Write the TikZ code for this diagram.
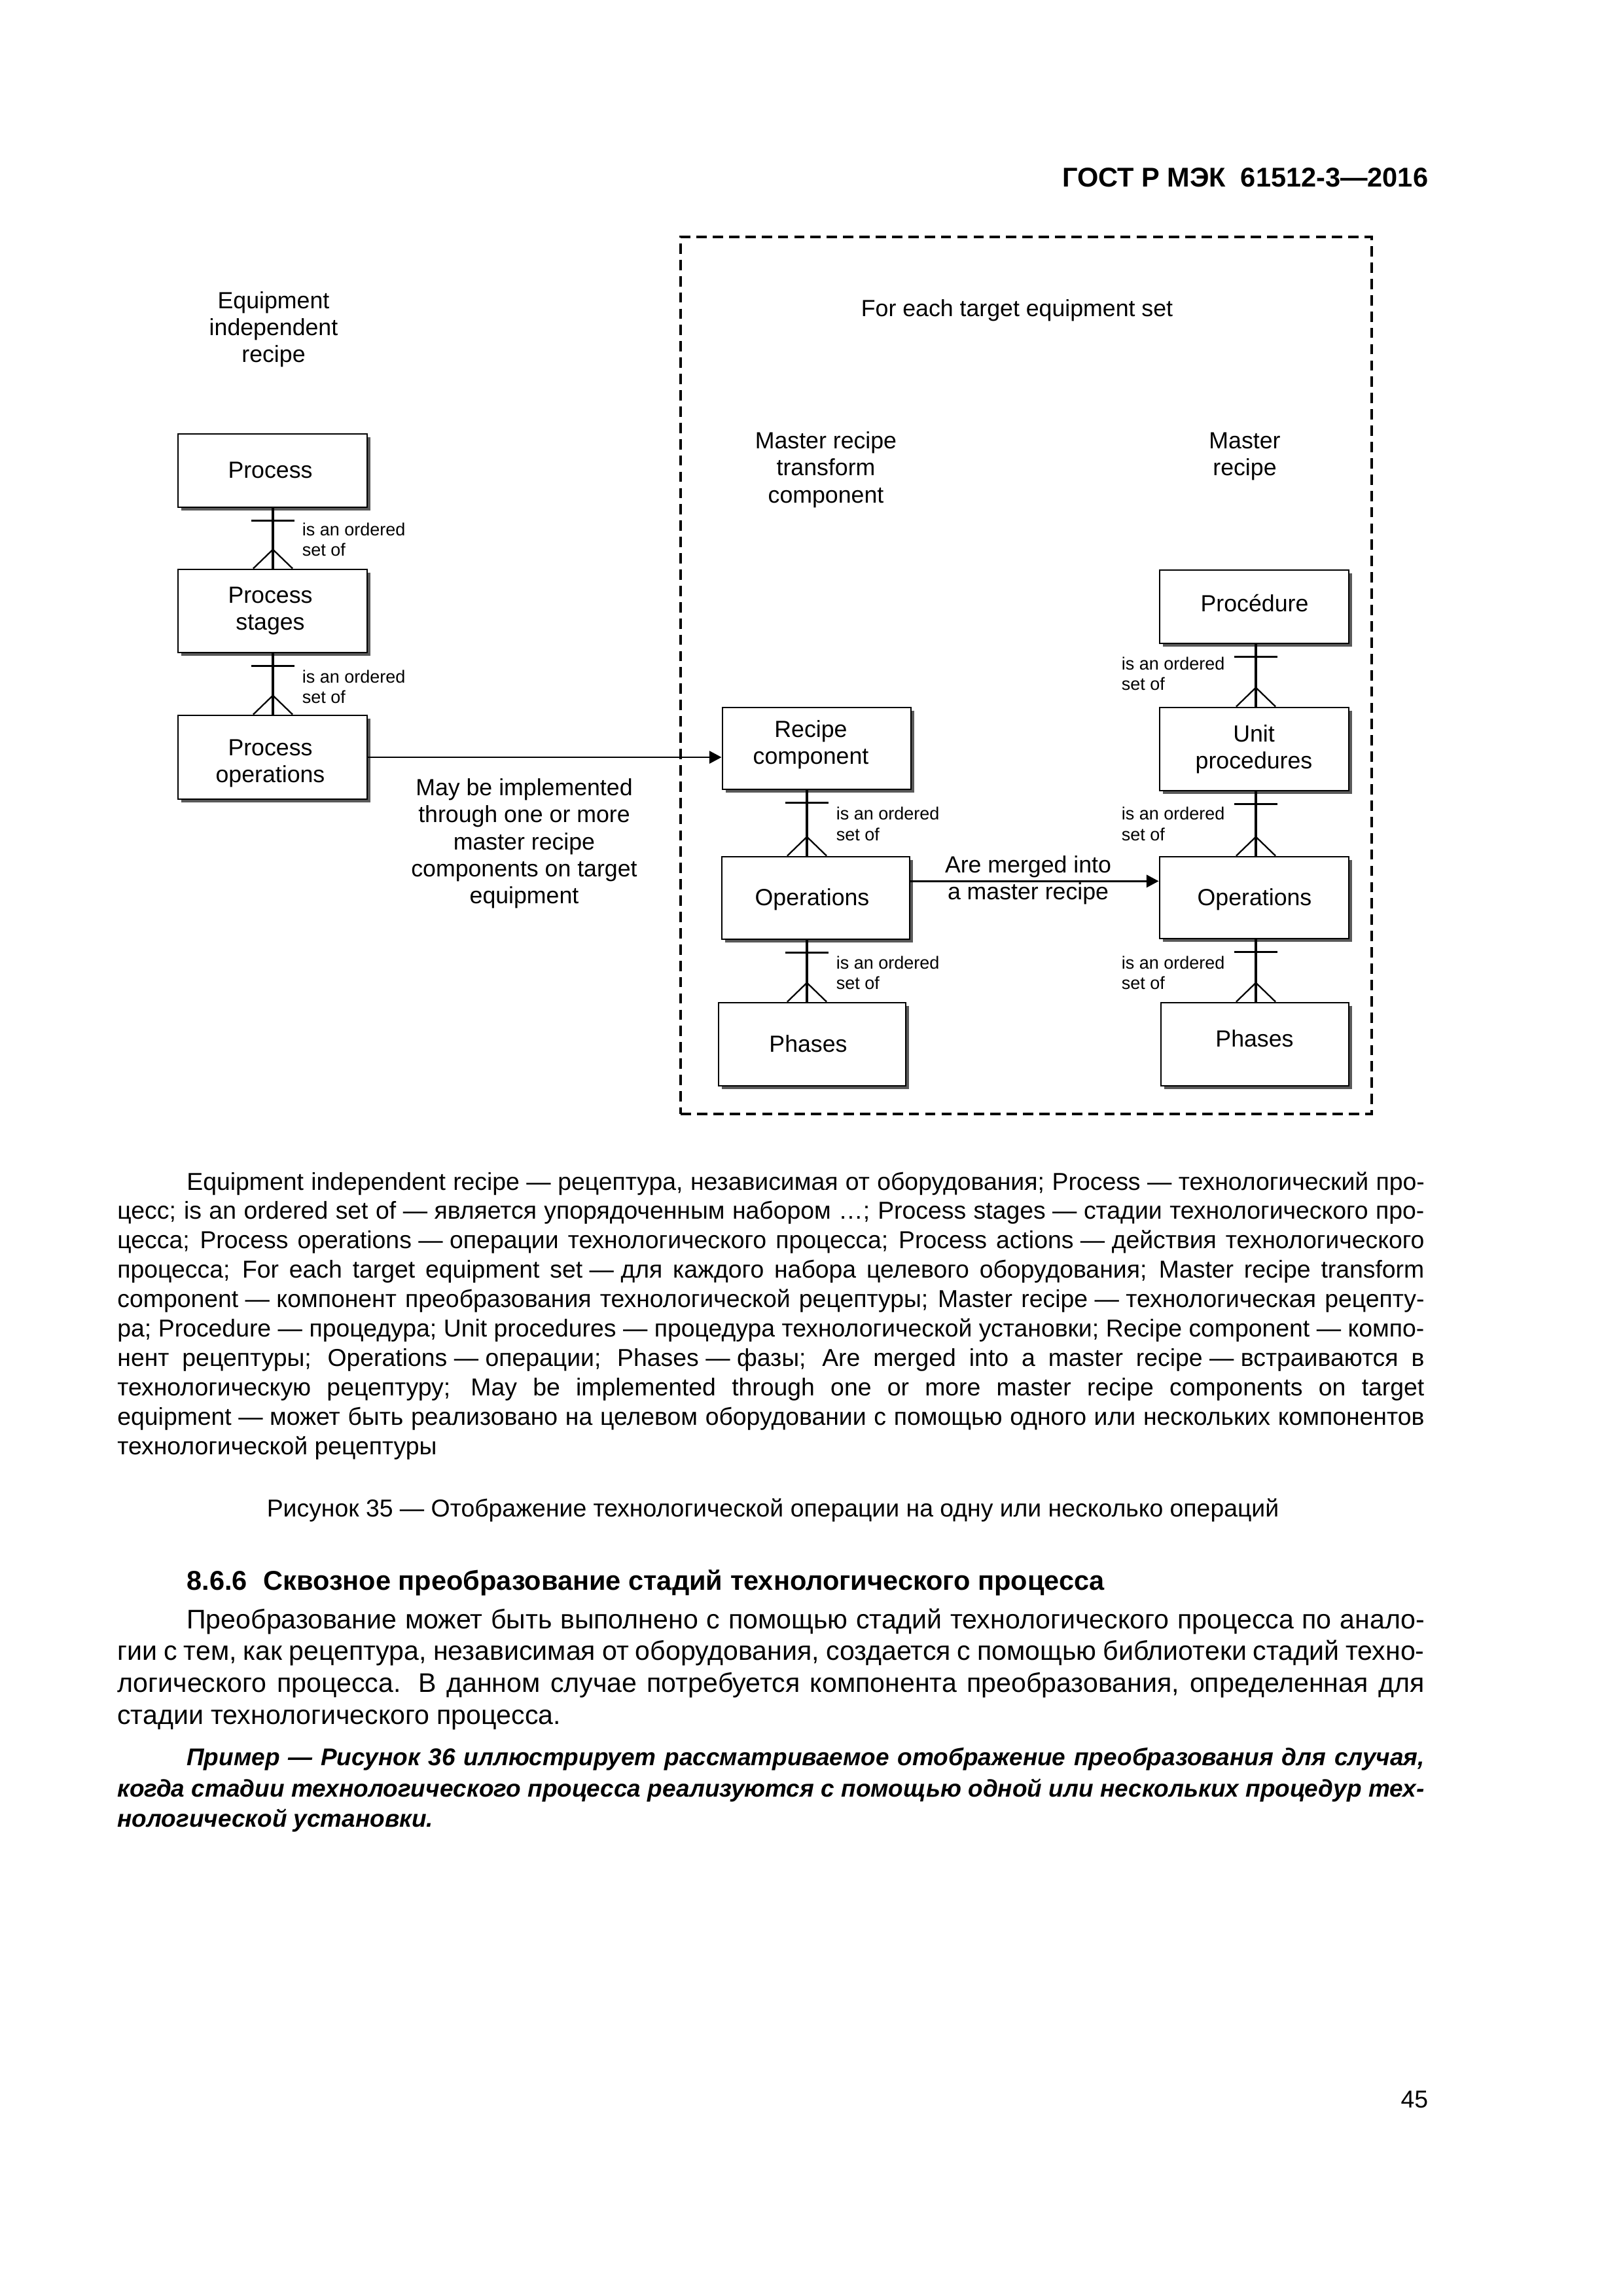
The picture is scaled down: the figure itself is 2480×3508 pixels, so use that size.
\documentclass[tikz,border=0pt]{standalone}
\usepackage{fontspec}
\setmainfont{Liberation Sans}
\usetikzlibrary{arrows.meta,fit,shadows,calc}
\newcommand\fsz[2]{\fontsize{#1}{#2}\selectfont}
\newcommand\mlines[1]{\begin{tabular}[t]{@{}c@{}}#1\end{tabular}}
\newcommand\jline[2]{\makebox[#1][s]{#2}}
\newcommand\dsh{\hspace{0.28em}—\hspace{0.28em}}
\tikzset{
  box/.style={draw, line width=0.7pt, fill=white, inner sep=0pt,
    general shadow={fill=black!65, draw=none, shadow xshift=1.3pt, shadow yshift=-1.3pt}},
  frame/.style={draw, line width=0.8pt, dash pattern=on 3.8pt off 2.2pt, inner sep=0pt},
  dtxt/.style={inner sep=0pt, font=\fsz{8.6}{9.96}},
  btext/.style={inner sep=0pt, font=\fsz{8.6}{9.96}, anchor=base},
  lbl/.style={inner sep=0pt, font=\fsz{6.5}{7.6}, anchor=base west},
  ltxt/.style={inner sep=0pt, font=\fsz{9}{10.8}, anchor=base west},
  htxt/.style={inner sep=0pt, font=\bfseries\fsz{10}{12}, anchor=base west},
  bodytxt/.style={inner sep=0pt, font=\fsz{9.9}{11.8}, anchor=base west},
  etxt/.style={inner sep=0pt, font=\bfseries\itshape\fsz{8.9}{11.3}, anchor=base west},
  conn/.style={line width=0.75pt},
  barline/.style={line width=0.85pt},
  crow/.style={line width=0.55pt},
  arr/.style={line width=0.7pt, -{Triangle[length=4.5pt,width=4.6pt]}}
}
\newcommand\relation[4]{%
  \coordinate (#4) at (#3,0);
  \draw[conn] (#1.south -| #4) -- (#2.north -| #4);
  \draw[barline] ($(#1.south -| #4)+(-33,19)$) -- ($(#1.south -| #4)+(33,19)$);
  \draw[crow] ($(#2.north -| #4)+(-30,0)$) -- ($(#2.north -| #4)+(0,-29)$) -- ($(#2.north -| #4)+(30,0)$);
}
\newcommand\ordlabel[3]{%
  \node[lbl] (#1a) at (#2,#3) {is an ordered};
  \node[lbl] (#1b) at (#2,#3+31.6) {set of};
}
\begin{document}
\begin{tikzpicture}[x=0.0846774mm,y=-0.0846774mm]
\fill[white] (0,0) rectangle (2480,3508);
\useasboundingbox (0,0) rectangle (2480,3508);

% header
\node[inner sep=0pt, anchor=base east, font=\bfseries\fsz{10}{12}] (hdr) at (2183,285) {ГОСТ Р МЭК\hspace{0.55em}61512-3—2016};

% dashed frame
\node[frame, fit={(1040,362) (2096,1702)}] (frame) {};

% headings in the diagram
\node[dtxt, anchor=base] (eir) at (418,471) {\mlines{Equipment\\independent\\recipe}};
\node[dtxt, anchor=base] (fets) at (1554,483) {For each target equipment set};
\node[dtxt, anchor=base] (mrtc) at (1262,685.5) {\mlines{Master recipe\\transform\\component}};
\node[dtxt, anchor=base] (mr) at (1902,685.5) {\mlines{Master\\recipe}};

% left column
\node[box, fit={(272,663) (561,775)}] (proc) {};
\node[box, fit={(272,870) (561,997)}] (stages) {};
\node[box, fit={(272,1093) (561,1221)}] (pops) {};
\node[btext] (procT) at (413,730.5) {Process};
\node[btext] (stagesT) at (413,921) {\mlines{Process\\stages}};
\node[btext] (popsT) at (413,1154) {\mlines{Process\\operations}};

% middle column
\node[box, fit={(1104,1081) (1392,1206)}] (rc) {};
\node[box, fit={(1103,1309) (1390,1435)}] (opsL) {};
\node[box, fit={(1098,1532) (1384,1659)}] (phL) {};
\node[btext] (rcT) at (1239,1126) {\mlines{Recipe\\component}};
\node[btext] (opsLT) at (1241,1383) {Operations};
\node[btext] (phLT) at (1235,1607) {Phases};

% right column
\node[box, fit={(1772,871) (2061,983)}] (procR) {};
\node[box, fit={(1772,1081) (2061,1208)}] (unitR) {};
\node[box, fit={(1772,1309) (2061,1434)}] (opsR) {};
\node[box, fit={(1774,1532) (2061,1659)}] (phR) {};
\node[btext] (procRT) at (1917,934) {Procédure};
\node[btext] (unitRT) at (1916,1133) {\mlines{Unit\\procedures}};
\node[btext] (opsRT) at (1917,1383) {Operations};
\node[btext] (phRT) at (1917,1599) {Phases};

% relations
\relation{proc}{stages}{417}{xa}
\relation{stages}{pops}{417}{xb}
\relation{rc}{opsL}{1233}{xc}
\relation{opsL}{phL}{1233}{xd}
\relation{procR}{unitR}{1919}{xe}
\relation{unitR}{opsR}{1919}{xf}
\relation{opsR}{phR}{1919}{xg}

\ordlabel{la}{461}{818}
\ordlabel{lb}{461}{1043}
\ordlabel{lc}{1277}{1252.5}
\ordlabel{ld}{1277}{1480}
\ordlabel{le}{1713}{1023}
\ordlabel{lf}{1713}{1252.5}
\ordlabel{lg}{1713}{1480}

% arrows
\draw[arr] (pops.east) -- (pops.east -| rc.west);
\draw[arr] ([yshift=6.2pt]opsL.east) -- ([yshift=6.2pt]opsL.east -| opsR.west);

\node[dtxt, anchor=base] (mbi) at (801,1215.4) {\mlines{May be implemented\\through one or more\\master recipe\\components on target\\equipment}};
\node[dtxt, anchor=base] (amr) at (1571,1333) {\mlines{Are merged into\\a master recipe}};

% legend
\node[ltxt] (lg1) at (284.6,1818) {\jline{455.7pt}{Equipment independent recipe\dsh рецептура, независимая от оборудования; Process\dsh технологический про-}};
\node[ltxt] (lg2) at (178.6,1862.9) {\jline{481.1pt}{цесс; is an ordered set of\dsh является упорядоченным набором …; Process stages\dsh стадии технологического про-}};
\node[ltxt] (lg3) at (178.6,1907.8) {\jline{481.1pt}{цесса; Process operations\dsh операции технологического процесса; Process actions\dsh действия технологического}};
\node[ltxt] (lg4) at (178.6,1952.7) {\jline{481.1pt}{процесса; For each target equipment set\dsh для каждого набора целевого оборудования; Master recipe transform}};
\node[ltxt] (lg5) at (178.6,1997.6) {\jline{481.1pt}{component\dsh компонент преобразования технологической рецептуры; Master recipe\dsh технологическая рецепту-}};
\node[ltxt] (lg6) at (178.6,2042.5) {\jline{481.1pt}{ра; Procedure\dsh процедура; Unit procedures\dsh процедура технологической установки; Recipe component\dsh компо-}};
\node[ltxt] (lg7) at (178.6,2087.4) {\jline{481.1pt}{нент рецептуры; Operations\dsh операции; Phases\dsh фазы; Are merged into a master recipe\dsh встраиваются в}};
\node[ltxt] (lg8) at (178.6,2132.3) {\jline{481.1pt}{технологическую рецептуру; May be implemented through one or more master recipe components on target}};
\node[ltxt] (lg9) at (178.6,2177.2) {\jline{481.1pt}{equipment\dsh может быть реализовано на целевом оборудовании с помощью одного или нескольких компонентов}};
\node[ltxt] (lg10) at (178.6,2222) {технологической рецептуры};

% caption
\node[ltxt, anchor=base] (cap) at (1181,2317) {Рисунок 35 — Отображение технологической операции на одну или несколько операций};

% section
\node[htxt] (sec) at (284.6,2429) {8.6.6\hspace{0.6em}Сквозное преобразование стадий технологического процесса};
\node[bodytxt] (b1) at (284.6,2488) {\jline{455.7pt}{Преобразование может быть выполнено с помощью стадий технологического процесса по анало-}};
\node[bodytxt] (b2) at (178.6,2536) {\jline{481.1pt}{гии с тем, как рецептура, независимая от оборудования, создается с помощью библиотеки стадий техно-}};
\node[bodytxt] (b3) at (178.6,2585) {\jline{481.1pt}{логического процесса. В данном случае потребуется компонента преобразования, определенная для}};
\node[bodytxt] (b4) at (178.6,2634) {стадии технологического процесса.};

\node[etxt] (e1) at (284.6,2697) {\jline{455.7pt}{Пример — Рисунок 36 иллюстрирует рассматриваемое отображение преобразования для случая,}};
\node[etxt] (e2) at (178.6,2745) {\jline{481.1pt}{когда стадии технологического процесса реализуются с помощью одной или нескольких процедур тех-}};
\node[etxt] (e3) at (178.6,2791.5) {нологической установки.};

% page number
\node[inner sep=0pt, anchor=base east, font=\fsz{9}{11}] (pg) at (2183,3220.5) {45};
\end{tikzpicture}
\end{document}
